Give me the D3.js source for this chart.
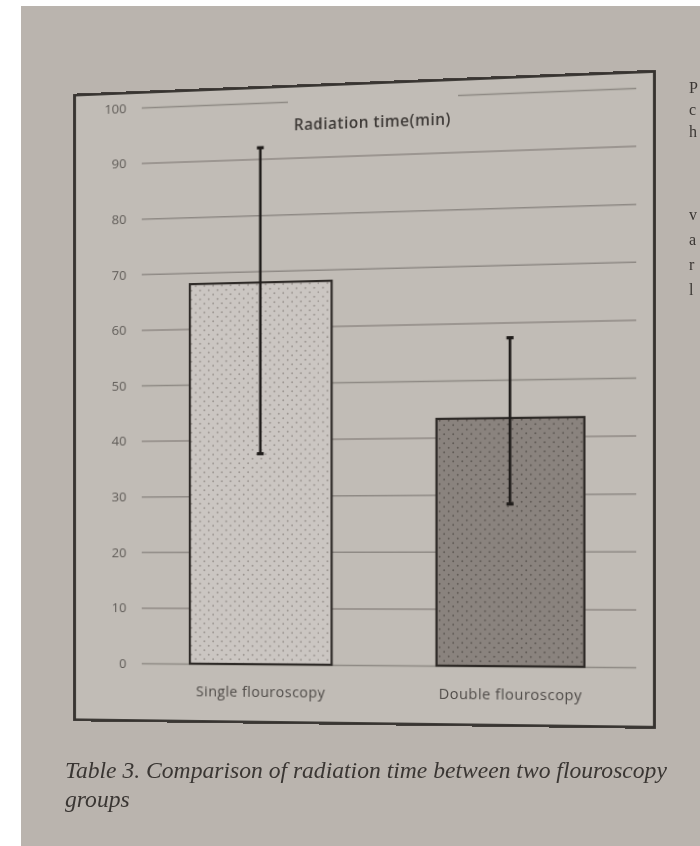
<!DOCTYPE html>
<html>
<head>
<meta charset="utf-8">
<script src="https://cdn.jsdelivr.net/npm/d3@7"></script>
<style>
  html, body { margin: 0; padding: 0; background: #ffffff; width: 700px; height: 846px; overflow: hidden; }
  #paper { position: absolute; left: 21px; top: 6px; width: 679px; height: 840px; background: #bab4ae; }
  #chartBox { position: absolute; left: 63.7px; top: 82px; width: 587px; height: 643px;
              transform-origin: 50% 50%;
              transform: perspective(1500px) skewY(-0.8deg) rotateY(-7.2deg); }
  #overlay { position: absolute; left: 0; top: 0; }
</style>
</head>
<body>
<div id="paper"></div>
<div id="chartBox"></div>
<svg id="overlay" width="700" height="846"></svg>
<script>
// ---- data ----
const categories = ["Single flouroscopy", "Double flouroscopy"];
const means = [68, 43.3];
const errLow = [37.5, 28.3];
const errHigh = [92, 57.3];
const yTicks = [0, 10, 20, 30, 40, 50, 60, 70, 80, 90, 100];
const chartTitle = "Radiation time(min)";
const captionLines = ["Table 3. Comparison of radiation time between two flouroscopy", "groups"];
const sideFragments = ["P", "c", "h", "v", "a", "r", "l"];

// ---- chart (flat, then photographed in perspective by CSS) ----
const W = 587, H = 643;
const svg = d3.select("#chartBox").append("svg").attr("width", W).attr("height", H);

const defs = svg.append("defs");
function dotPattern(id, bg, dot) {
  const p = defs.append("pattern").attr("id", id).attr("patternUnits", "userSpaceOnUse")
    .attr("width", 9).attr("height", 9);
  p.append("rect").attr("width", 9).attr("height", 9).attr("fill", bg);
  p.append("circle").attr("cx", 2.2).attr("cy", 2.2).attr("r", 0.95).attr("fill", dot);
  p.append("circle").attr("cx", 6.7).attr("cy", 6.7).attr("r", 0.95).attr("fill", dot);
}
dotPattern("dotsLight", "#cbc6c2", "#9a948f");
dotPattern("dotsDark", "#8a837e", "#5f5954");
const fills = ["url(#dotsLight)", "url(#dotsDark)"];

// frame
svg.append("rect").attr("x", 1.5).attr("y", 1.5).attr("width", W - 3).attr("height", H - 3)
  .attr("fill", "#c1bcb6").attr("stroke", "#35312e").attr("stroke-width", 2.8);

const y = d3.scaleLinear().domain([0, 100]).range([583, 17]);
const x = d3.scaleBand().domain(categories).range([72, 568]).paddingInner(0.42).paddingOuter(0.2);

// gridlines via axis
const yAxis = d3.axisLeft(y).tickValues(yTicks).tickSize(-(568 - 72)).tickPadding(16);
const gAxis = svg.append("g").attr("transform", "translate(72,0)").call(yAxis);
gAxis.select(".domain").remove();
gAxis.selectAll(".tick line").attr("stroke", "#8f8a85").attr("stroke-width", 1.5);
gAxis.selectAll(".tick text").attr("fill", "#5f5b57").attr("font-family", "'Open Sans', sans-serif")
  .attr("font-size", 13.5);

// title box covering grid line and title
svg.append("rect").attr("x", 223).attr("y", 8).attr("width", 171).attr("height", 44).attr("fill", "#c1bcb6");
svg.append("text").attr("x", 308).attr("y", 46).attr("text-anchor", "middle")
  .attr("font-family", "'Open Sans', sans-serif").attr("font-weight", 600).attr("font-size", 15.5)
  .attr("letter-spacing", 0.5).attr("fill", "#3e3a37").text(chartTitle);

// bars
svg.selectAll("rect.bar").data(categories).join("rect").attr("class", "bar")
  .attr("x", d => x(d)).attr("width", x.bandwidth())
  .attr("y", (d, i) => y(means[i])).attr("height", (d, i) => y(0) - y(means[i]))
  .attr("fill", (d, i) => fills[i]).attr("stroke", "#2e2a27").attr("stroke-width", 2.2);

// error bars
const cx = d => x(d) + x.bandwidth() / 2;
svg.selectAll("line.err").data(categories).join("line").attr("class", "err")
  .attr("x1", cx).attr("x2", cx)
  .attr("y1", (d, i) => y(errHigh[i])).attr("y2", (d, i) => y(errLow[i]))
  .attr("stroke", "#1f1c1a").attr("stroke-width", 2.6);
[errHigh, errLow].forEach(arr => {
  svg.selectAll(null).data(categories).join("line")
    .attr("x1", d => cx(d) - 3.5).attr("x2", d => cx(d) + 3.5)
    .attr("y1", (d, i) => y(arr[i])).attr("y2", (d, i) => y(arr[i]))
    .attr("stroke", "#1f1c1a").attr("stroke-width", 3.2);
});

// category labels
svg.selectAll("text.cat").data(categories).join("text").attr("class", "cat")
  .attr("x", cx).attr("y", 616).attr("text-anchor", "middle")
  .attr("font-family", "'Open Sans', sans-serif").attr("font-size", 14.5)
  .attr("letter-spacing", 0.5).attr("fill", "#4f4b48").text(d => d);

// ---- caption and neighbouring column fragments ----
const ov = d3.select("#overlay");
ov.selectAll("text.cap").data(captionLines).join("text").attr("class", "cap")
  .attr("x", 65).attr("y", (d, i) => 778 + i * 29)
  .attr("font-family", "'Liberation Serif', serif").attr("font-style", "italic")
  .attr("font-size", 23.6).attr("fill", "#3a3633").text(d => d);

const fragY = [93, 115, 137, 220, 245, 270, 295];
ov.selectAll("text.frag").data(sideFragments).join("text").attr("class", "frag")
  .attr("x", 689).attr("y", (d, i) => fragY[i])
  .attr("font-family", "'Liberation Serif', serif").attr("font-size", 16)
  .attr("fill", "#3a3633").text(d => d);
</script>
</body>
</html>
